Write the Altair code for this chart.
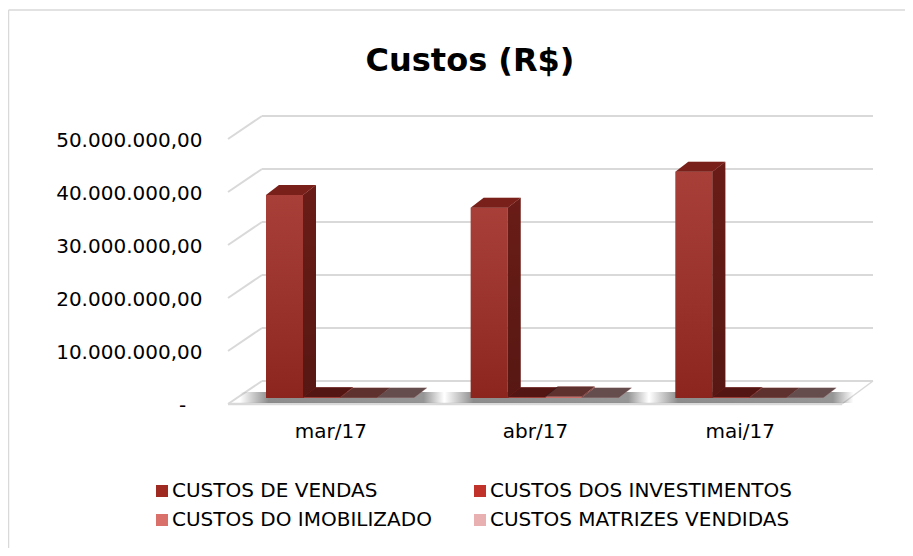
import json
import altair as alt
import pandas as pd

# ---------------- data ----------------
months = ["mar/17", "abr/17", "mai/17"]
series = [
    "CUSTOS DE VENDAS",
    "CUSTOS DOS INVESTIMENTOS",
    "CUSTOS DO IMOBILIZADO",
    "CUSTOS MATRIZES VENDIDAS",
]
custos_vendas = [38300000, 35900000, 42700000]
custos_investimentos = [150000, 120000, 160000]
custos_imobilizado = [60000, 300000, 50000]
custos_matrizes = [40000, 30000, 40000]
y_ticks = [0, 10000000, 20000000, 30000000, 40000000, 50000000]
colors = ["#9e2a22", "#c0322a", "#d9706a", "#e8b0b0"]

values_by_series = [custos_vendas, custos_investimentos, custos_imobilizado, custos_matrizes]
rows = []
for si, (name, vals) in enumerate(zip(series, values_by_series)):
    for mi, (m, v) in enumerate(zip(months, vals)):
        rows.append({"mes": m, "serie": name, "valor": v, "mi": mi, "si": si, "zero": 0})
df = pd.DataFrame(rows)
ticks_df = pd.DataFrame({"v": y_ticks})

# ---------------- layout constants ----------------
W, H = 614, 265
YMAX = 50000000
PX = W / 3.0
BAR_W = 37 / PX
GROUP_OFF = 38 / PX
DX = 13 / PX
DY = 10 / H * YMAX
FONT = "DejaVu Sans"
GRID = "#d9d9d9"

xscale = alt.Scale(domain=[0, 3], nice=False, zero=False)
yscale = alt.Scale(domain=[0, YMAX], nice=False, zero=True)

label_expr_y = (
    "datum.value == 0 ? '-\u2002\u00a0\u200b' : "
    "replace(replace(replace(format(datum.value, ',.2f'), regexp(',', 'g'), '_'), "
    "regexp('[.]', 'g'), ','), regexp('_', 'g'), '.')"
)
yaxis = alt.Axis(values=y_ticks, labelExpr=label_expr_y, labelFont=FONT, labelFontSize=20,
                 labelColor="black", domain=False, ticks=False, grid=False,
                 labelPadding=26, labelOffset=7, title=None)
xaxis = alt.Axis(values=[0.5, 1.5, 2.5], labelExpr=json.dumps(months) + "[floor(datum.value)]",
                 labelFont=FONT, labelFontSize=20, labelColor="black", domain=False,
                 ticks=False, grid=False, labelPadding=23, title=None)


def X(field):
    return alt.X(field, type="quantitative", scale=xscale, axis=xaxis)


def Y(field):
    return alt.Y(field, type="quantitative", scale=yscale, axis=yaxis)


base = alt.Chart(df).transform_calculate(
    xl=f"datum.mi + {GROUP_OFF} + datum.si * {BAR_W}",
).transform_calculate(
    xr=f"datum.xl + {BAR_W}",
    bid="datum.mes + '|' + datum.serie",
)

color_enc = alt.Color("serie:N", scale=alt.Scale(domain=series, range=colors), legend=None)

# decorations: frame border
deco = alt.Chart(pd.DataFrame({"a": [0]}))
border_left = deco.mark_rule(color=GRID, strokeWidth=1.5).encode(
    x=alt.value(-219.5), y=alt.value(-123), y2=alt.value(420))
border_top = deco.mark_rule(color=GRID, strokeWidth=1.5).encode(
    x=alt.value(-219.5), x2=alt.value(680), y=alt.value(-123))

tk = alt.Chart(ticks_df)
back_grid = tk.mark_rule(color=GRID, strokeWidth=2, yOffset=-17).encode(
    y=Y("v"), x=alt.value(34), x2=alt.value(645))
side_grid = tk.mark_rule(color=GRID, strokeWidth=2, yOffset=6, y2Offset=-17).encode(
    y=Y("v"), y2="v:Q", x=alt.value(0), x2=alt.value(34))
floor_front = tk.transform_filter("datum.v == 0").mark_rule(color=GRID, strokeWidth=2.5, yOffset=6).encode(
    y=Y("v"), x=alt.value(0), x2=alt.value(W))
floor_right = tk.transform_filter("datum.v == 0").mark_rule(color=GRID, strokeWidth=1.5, yOffset=6, y2Offset=-17).encode(
    y=Y("v"), y2="v:Q", x=alt.value(W), x2=alt.value(645))

# shadows on the floor
shadow = base.transform_filter("datum.si == 0").transform_calculate(
    sx0=f"datum.mi + {GROUP_OFF} - {26 / PX}",
    sx1=f"datum.mi + {GROUP_OFF} + {4 * BAR_W + 30 / PX}",
    sy0=f"{-0.5 * DY}",
    sy1=f"{0.6 * DY}",
).mark_rect(fill=alt.Gradient(
    gradient="linear", x1=0, x2=1, y1=0, y2=0,
    stops=[alt.GradientStop(color="rgba(80,80,80,0)", offset=0),
           alt.GradientStop(color="rgba(80,80,80,0.65)", offset=0.14),
           alt.GradientStop(color="rgba(80,80,80,0.6)", offset=0.9),
           alt.GradientStop(color="rgba(80,80,80,0)", offset=1)])).encode(
    x=X("sx0"), x2="sx1:Q", y=Y("sy0"), y2="sy1:Q")

# front faces (carry the legend)
front = base.mark_rect().encode(
    x=X("xl"), x2="xr:Q",
    y=Y("valor"), y2="zero:Q",
    color=alt.Color("serie:N", scale=alt.Scale(domain=series, range=colors),
                    legend=alt.Legend(title=None, orient="none", legendX=-76, legendY=348,
                                      columns=2, direction="horizontal", symbolType="square",
                                      symbolSize=144, symbolStrokeWidth=0, labelFont=FONT,
                                      labelFontSize=20, labelColor="black", labelOffset=0,
                                      columnPadding=38, rowPadding=9, padding=0, labelLimit=400)),
)
front_shade = base.mark_rect(fill=alt.Gradient(
    gradient="linear", x1=0, x2=0, y1=0, y2=1,
    stops=[alt.GradientStop(color="rgba(255,255,255,0.10)", offset=0),
           alt.GradientStop(color="rgba(0,0,0,0.12)", offset=1)])).encode(
    x=X("xl"), x2="xr:Q", y=Y("valor"), y2="zero:Q")

# side faces
side_base = base.transform_calculate(p0="0", p1="1").transform_fold(
    ["p0", "p1"], as_=["k", "p"]
).transform_calculate(
    sx=f"datum.xr + datum.p * {DX}",
    sy=f"datum.valor + datum.p * {DY}",
    sy2=f"datum.p * {DY}",
)
side = side_base.mark_area(orient="vertical").encode(
    x=X("sx"), y=Y("sy"), y2="sy2:Q", detail="bid:N", color=color_enc)
side_shade = side_base.mark_area(orient="vertical", fill=alt.Gradient(
    gradient="linear", x1=0, x2=0, y1=0, y2=1,
    stops=[alt.GradientStop(color="rgba(0,0,0,0.33)", offset=0),
           alt.GradientStop(color="rgba(0,0,0,0.45)", offset=1)])).encode(
    x=X("sx"), y=Y("sy"), y2="sy2:Q", detail="bid:N")

# top faces
top_base = base.transform_calculate(p0="0", p1="1").transform_fold(
    ["p0", "p1"], as_=["k", "p"]
).transform_calculate(
    ty=f"datum.valor + datum.p * {DY}",
    tx=f"datum.xl + datum.p * {DX}",
    tx2=f"datum.xr + datum.p * {DX}",
)
top = top_base.mark_area(orient="horizontal").encode(
    y=Y("ty"), x=X("tx"), x2="tx2:Q", detail="bid:N", color=color_enc)
top_shade = top_base.mark_area(orient="horizontal", color="black").encode(
    y=Y("ty"), x=X("tx"), x2="tx2:Q", detail="bid:N",
    opacity=alt.condition("datum.si == 0", alt.value(0.23), alt.value(0.56)))

chart = alt.layer(
    border_left, border_top, back_grid, side_grid, floor_front, floor_right, shadow,
    front, front_shade, side, side_shade, top, top_shade,
).properties(
    width=W, height=H,
    title=alt.TitleParams("Custos (R$)", font=FONT, fontSize=32, fontWeight="bold",
                          color="black", anchor="middle", frame="group", dx=-65,
                          baseline="alphabetic", offset=-94),
    autosize=alt.AutoSizeParams(type="none"),
    padding={"left": 220, "top": 125, "right": 63, "bottom": 150},
    background="white",
).configure_view(stroke="transparent", strokeWidth=0)

chart.save("out.html", embed_options={"renderer": "svg", "actions": False})
